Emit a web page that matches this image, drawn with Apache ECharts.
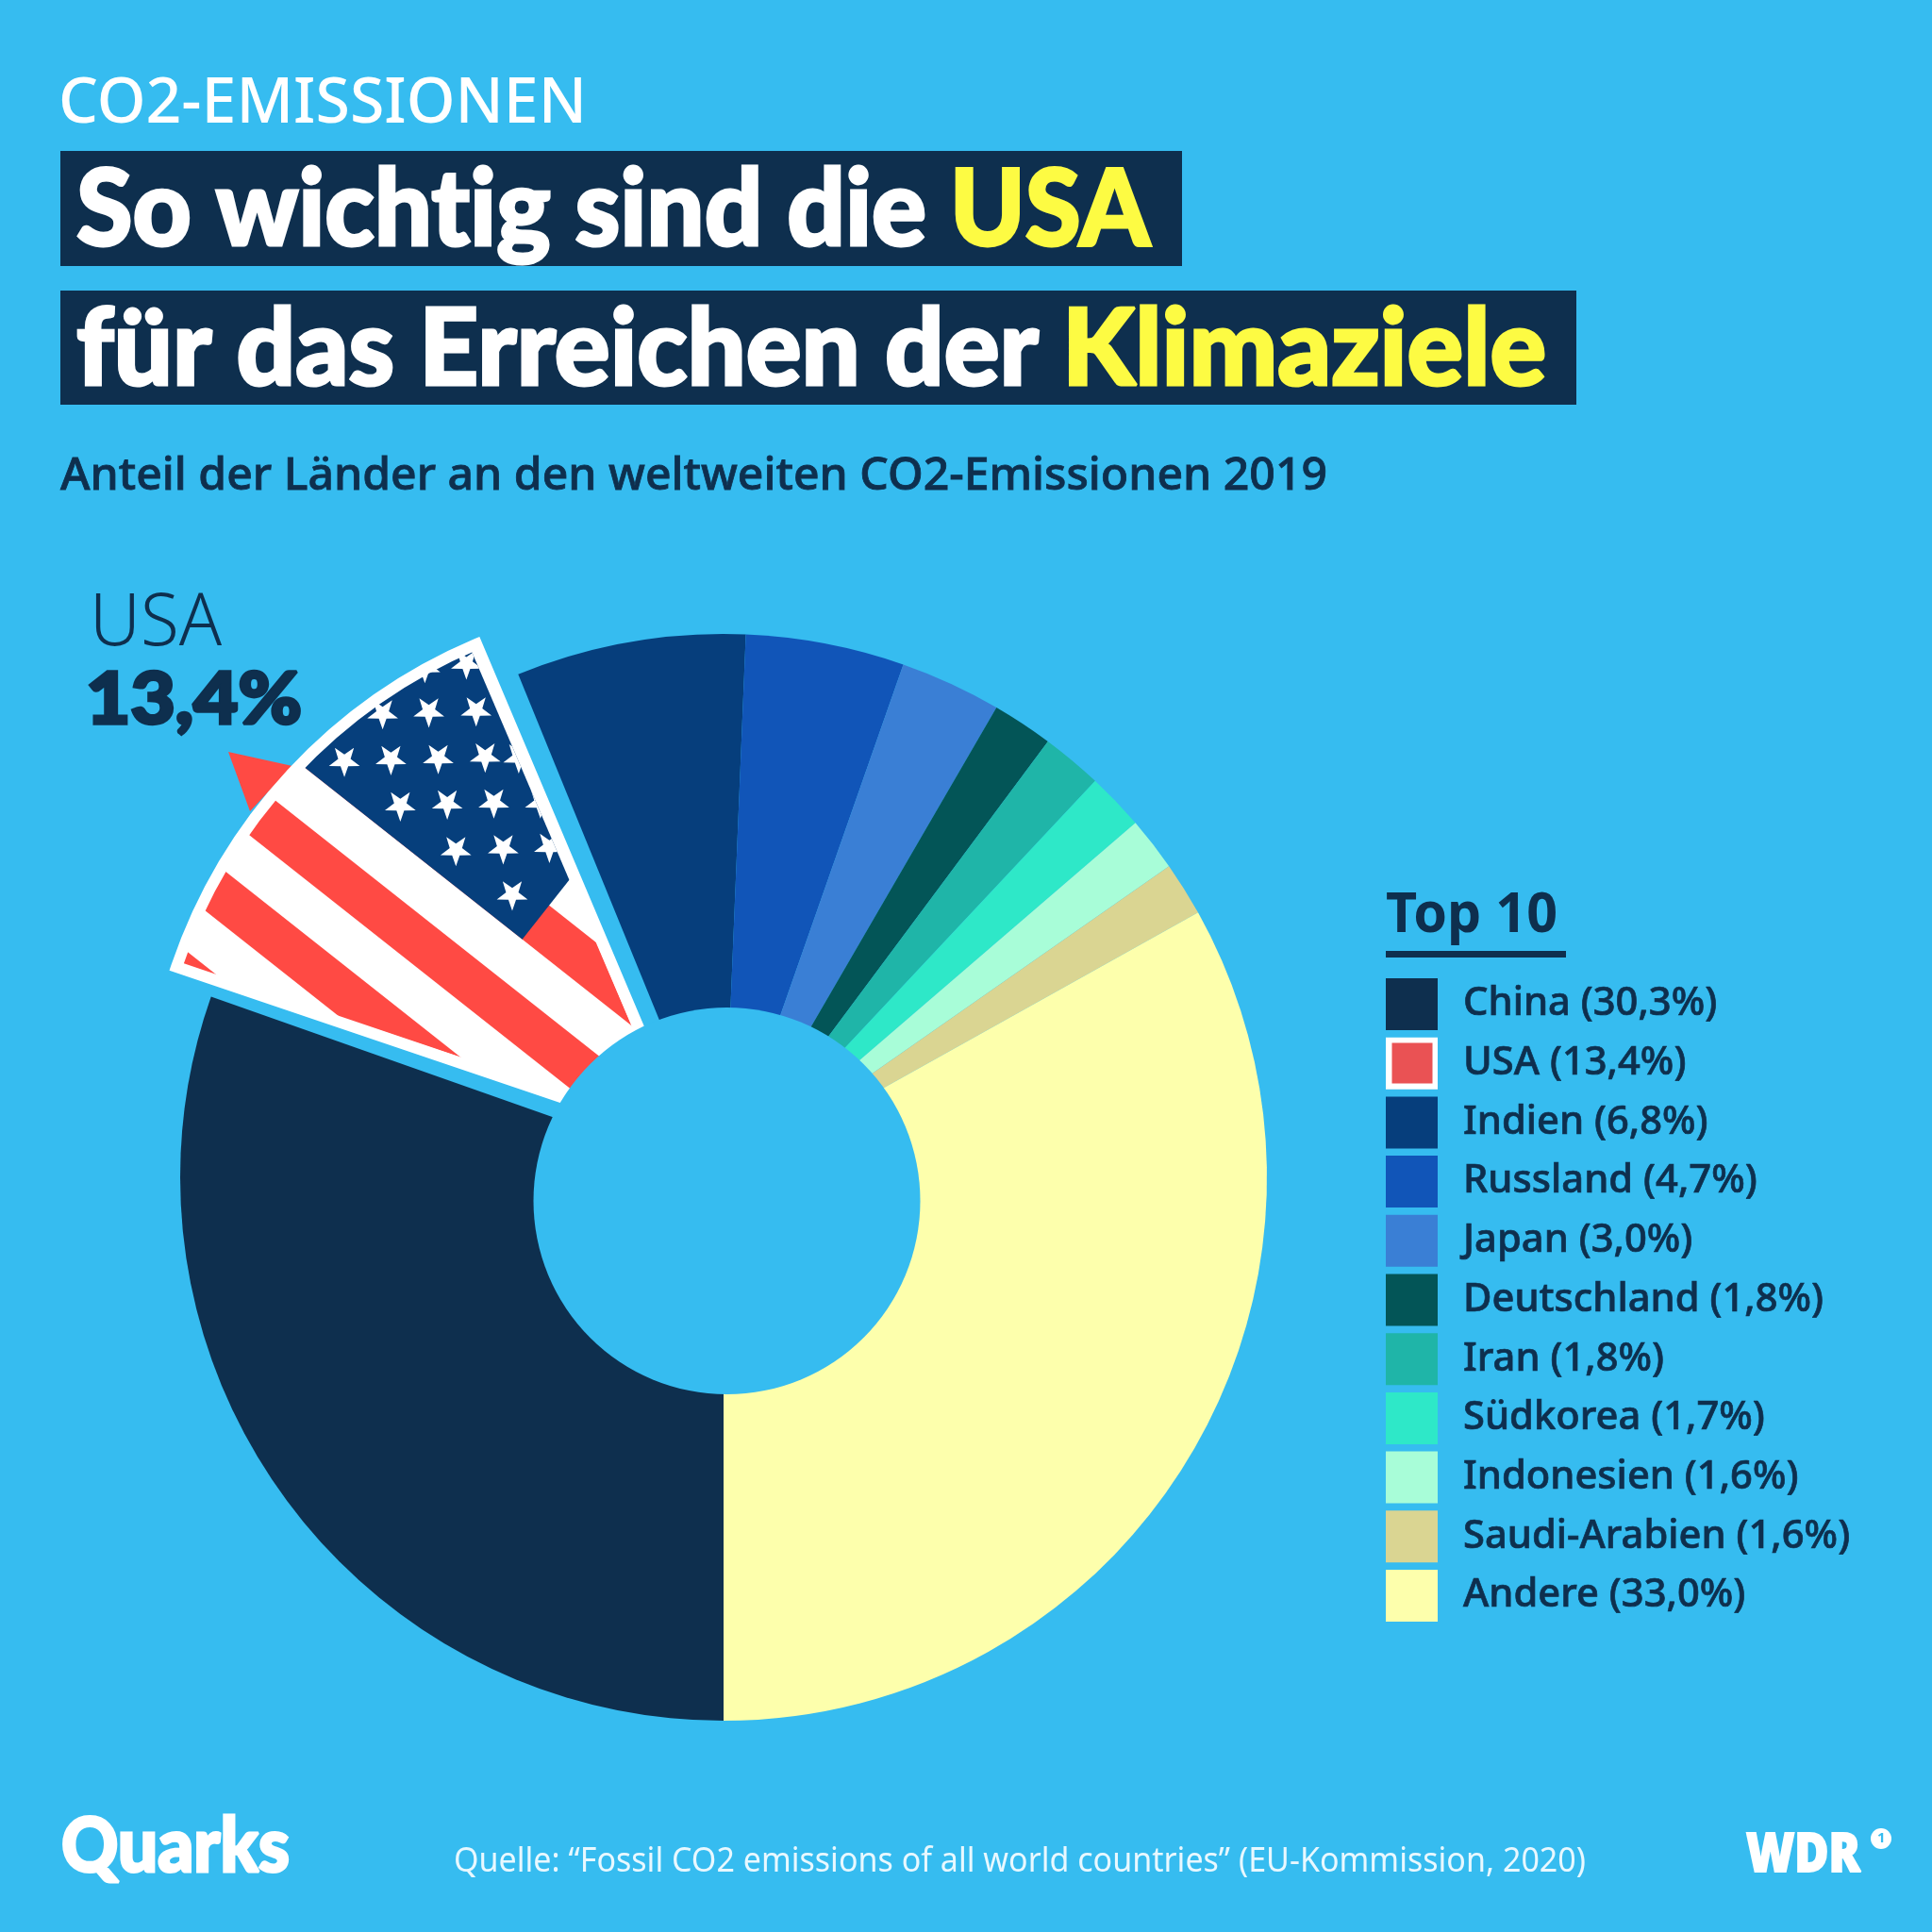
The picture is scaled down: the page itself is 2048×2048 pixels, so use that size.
<!DOCTYPE html>
<html><head><meta charset="utf-8">
<style>html,body{margin:0;padding:0;background:#36bcf0}#c{width:2048px;height:2048px}</style>
<script src="https://cdn.jsdelivr.net/npm/echarts@6/dist/echarts.min.js"></script>
</head><body><div id="c"></div>
<script>
const categories=['China','USA','Indien','Russland','Japan','Deutschland','Iran','Südkorea','Indonesien','Saudi-Arabien','Andere'];
const shares=[30.3,13.4,6.8,4.7,3.0,1.8,1.8,1.7,1.6,1.6,33.0];
const colors=['#0e2f4e','#ea5254','#063e7c','#1155b8','#3a7fd5','#035557','#1fb5a8','#2ee8c8','#a8fdd8','#dad592','#fdffac'];
const BG='#36bcf0',DARK='#0e2f4e',YEL='#fdfb43',RED='#ff4a44',FLAGBLUE='#063f7c';
const names=categories.map((c,i)=>c+' ('+shares[i].toFixed(1).replace('.',',')+'%)');
const USA=1;

// a hair of letter spacing keeps Lato's "ti" ligature off
['fillText','strokeText'].forEach(m=>{const o=CanvasRenderingContext2D.prototype[m];CanvasRenderingContext2D.prototype[m]=function(...a){this.letterSpacing='0.01px';return o.apply(this,a);};});

// flag texture, registered to page pixels
const starsAt=[[900,270],[785,280],[668,408],[796,403],[927,400],[562,540],[691,535],[822,532],[952,528],[1045,530],[717,663],[847,658],[976,655],[1105,655],[871,787],[1002,782],[1130,778],[1027,910]];
function flag(){
  const k=1568/600,cv=document.createElement('canvas');cv.width=cv.height=2048;
  const g=cv.getContext('2d');g.fillStyle='#fff';g.fillRect(0,0,2048,2048);
  g.save();g.translate(150,600);g.scale(1/k,1/k);
  g.beginPath();[[600,-500],[1480,1560],[-1000,732],[-1000,-500]].forEach(([x,y],i)=>i?g.lineTo(x,y):g.moveTo(x,y));g.closePath();g.clip();
  g.save();g.rotate(38.3*Math.PI/180);
  g.fillStyle=RED;[38,280,520,760].forEach(d=>g.fillRect(-5000,d,10000,120));
  g.fillStyle=FLAGBLUE;g.fillRect(-5000,-5000,6469,5158);
  g.restore();
  g.fillStyle='#fff';
  starsAt.forEach(([x,y])=>{g.beginPath();for(let i=0;i<10;i++){const r=i%2?18:45,a=Math.PI/2+i*Math.PI/5;const px=x+r*Math.cos(a),py=y+r*Math.sin(a);i?g.lineTo(px,py):g.moveTo(px,py);}g.closePath();g.fill();});
  g.restore();return cv;
}
const flagPattern={image:flag(),repeat:'no-repeat'};

const mc=document.createElement('canvas').getContext('2d');
mc.letterSpacing='0.01px';
// text squeezed or stretched horizontally to the reference's measured width
const txt=(x,y,text,size,weight,fill,width,family,bold)=>{
  const font=weight+' '+size+'px '+(family||'"Noto Sans"');
  mc.font=font;
  const sx=width?width/mc.measureText(text).width:1;
  const st={text,fill,font,verticalAlign:'middle',align:'left'};
  if(bold){st.stroke=fill;st.lineWidth=bold;}
  return {type:'text',x,y,z:20,scaleX:sx,style:st};
};
const rect=(x,y,w,h,fill,z)=>({type:'rect',z:z||15,shape:{x,y,width:w,height:h},style:{fill}});

const ch=echarts.init(document.getElementById('c'),null,{renderer:'canvas'});
ch.setOption({
  animation:false,backgroundColor:BG,
  legend:{orient:'vertical',left:1469,top:1037,padding:0,itemWidth:55,itemHeight:55,itemGap:7.7,icon:'rect',selectedMode:false,
    textStyle:{color:DARK,fontFamily:'"Noto Sans"',fontWeight:500,fontSize:41.7,lineHeight:52,padding:[0,0,0,22],textBorderColor:DARK,textBorderWidth:0.7},
    data:names.map((n,i)=>({name:n,icon:'rect',itemStyle:{color:i===USA?'#ffffff':colors[i],borderWidth:0}}))},
  series:[
   {type:'pie',silent:true,z:2,startAngle:270,clockwise:true,center:[767,1248],radius:[0,576],label:{show:false},labelLine:{show:false},
    data:names.map((n,i)=>({name:n,value:shares[i],itemStyle:{color:i===USA?'rgba(0,0,0,0)':colors[i]}}))},
   {type:'pie',silent:true,z:3,startAngle:270.7,clockwise:true,center:[727,1207.8],radius:[0,570],label:{show:false},labelLine:{show:false},
    data:names.map((n,i)=>({name:n,value:shares[i],itemStyle:i===USA?{color:flagPattern,borderColor:'#fff',borderWidth:12,borderJoin:'miter',borderMiterLimit:10}:{color:'rgba(0,0,0,0)',borderWidth:0}}))}
  ],
  graphic:{elements:[
    {type:'polygon',z:1,shape:{points:[[242,797],[310,812],[265,860]]},style:{fill:RED}},
    {type:'circle',z:10,shape:{cx:770.5,cy:1273,r:205},style:{fill:BG}},
    rect(1475.5,1105.5,43,43,colors[USA],50),
    rect(64,160,1189,122,DARK),rect(64,308,1607,121,DARK),
    txt(62,111,'CO2-EMISSIONEN',68,500,'#fff',560),
    txt(81,224,'So wichtig sind die',113,900,'#fff',901,'Lato',3),
    txt(1007,224,'USA',113,900,YEL,212,'Lato',3),
    txt(81,372,'für das Erreichen der',113,900,'#fff',1020,'Lato',3),
    txt(1126,372,'Klimaziele',113,900,YEL,513,'Lato',3),
    txt(64,506,'Anteil der Länder an den weltweiten CO2-Emissionen 2019',47,500,DARK,1343,null,0.8),
    txt(95,662,'USA',77,300,DARK,140),
    txt(91,742,'13,4%',77,900,DARK,229,'Lato',3.5),
    txt(1469,971,'Top 10',60,700,DARK,182),
    rect(1469,1008,191,7,DARK),
    txt(65,1958,'Quarks',80,900,'#fff',242,'Lato',3),
    txt(481,1974,'Quelle: “Fossil CO2 emissions of all world countries” (EU-Kommission, 2020)',36,400,'#e8f8ff',1200),
    txt(1851,1968,'WDR',56,900,'#fff',121,null,2),
    {type:'circle',z:20,shape:{cx:1994,cy:1949,r:11},style:{fill:'#fff'}},
    txt(1990,1949,'1',15,700,BG)
  ]}
});
</script></body></html>
